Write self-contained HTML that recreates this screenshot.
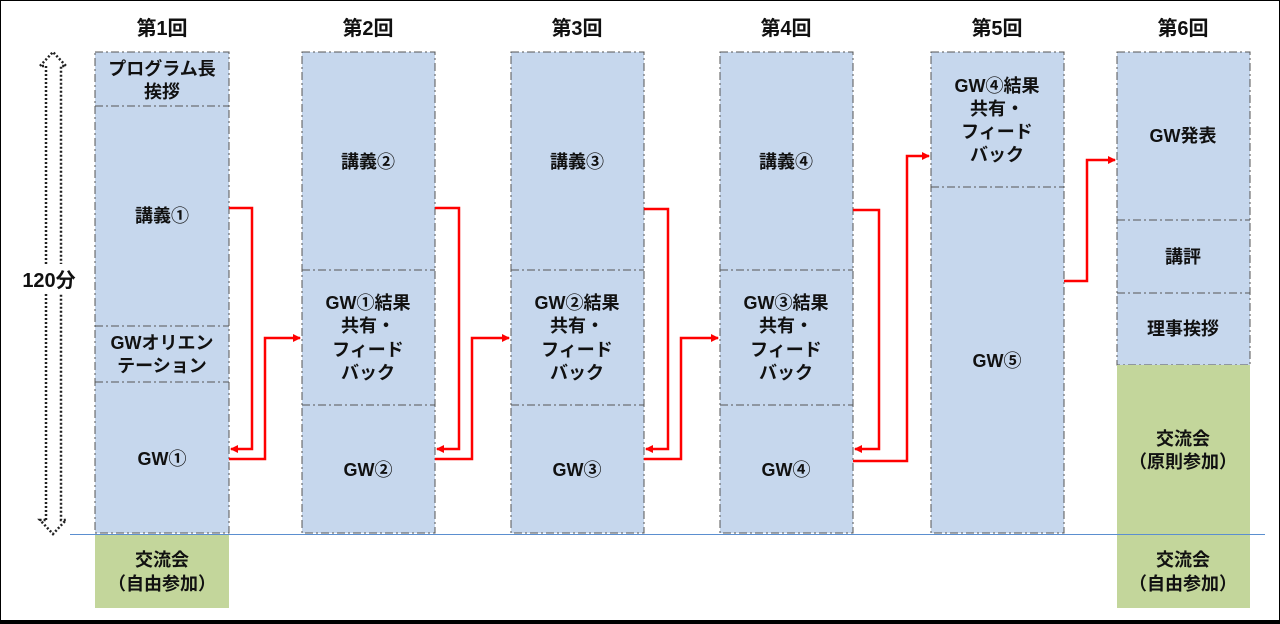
<!DOCTYPE html>
<html><head><meta charset="utf-8"><style>
body{margin:0;background:#fff}
svg{display:block}
text{font-family:"Liberation Sans","Noto Sans CJK JP",sans-serif;font-weight:bold;fill:#111;text-anchor:middle}
.t{font-size:20px}
.l{font-size:18px}
</style></head><body>
<svg width="1280" height="624" viewBox="0 0 1280 624">
<rect x="0.5" y="0.5" width="1279" height="622" fill="#fff" stroke="#000" stroke-width="1"/>
<rect x="0" y="620" width="1280" height="4" fill="#000"/>
<g fill="#c6d7ed" stroke="#555" stroke-width="1" stroke-dasharray="8,3,2,3">
<rect x="95" y="52" width="134" height="481"/>
<rect x="302" y="52" width="133" height="481"/>
<rect x="511" y="52" width="133" height="481"/>
<rect x="720" y="52" width="133" height="481"/>
<rect x="931" y="52" width="133" height="481"/>
<rect x="1117" y="52" width="133" height="313"/>
</g>
<rect x="95" y="534" width="134" height="74" fill="#c3d69b"/>
<rect x="1117" y="365" width="133" height="243" fill="#c3d69b"/>
<g stroke="#555" stroke-width="1" stroke-dasharray="8,3,2,3">
<line x1="95" y1="106" x2="229" y2="106"/><line x1="95" y1="326" x2="229" y2="326"/><line x1="95" y1="382" x2="229" y2="382"/>
<line x1="302" y1="270" x2="435" y2="270"/><line x1="302" y1="405" x2="435" y2="405"/>
<line x1="511" y1="270" x2="644" y2="270"/><line x1="511" y1="405" x2="644" y2="405"/>
<line x1="720" y1="270" x2="853" y2="270"/><line x1="720" y1="405" x2="853" y2="405"/>
<line x1="931" y1="187" x2="1064" y2="187"/>
<line x1="1117" y1="220" x2="1250" y2="220"/><line x1="1117" y1="293" x2="1250" y2="293"/>
</g>
<line x1="70" y1="534.5" x2="1265" y2="534.5" stroke="#5b8fd0" stroke-width="1"/>
<g fill="none" stroke="#222" stroke-width="2.5" stroke-dasharray="2,2">
<path d="M46 520 V66 L40 66 L53 52 L66 66 L61 66 V520 L66 520 L53 534 L40 520 L46 520"/>
</g>
<rect x="14" y="264" width="70" height="30" fill="#fff"/>
<text class="t" x="49" y="287">120分</text>
<text class="t" x="162" y="35">第1回</text>
<text class="t" x="368" y="35">第2回</text>
<text class="t" x="577" y="35">第3回</text>
<text class="t" x="786" y="35">第4回</text>
<text class="t" x="997" y="35">第5回</text>
<text class="t" x="1183" y="35">第6回</text>
<text class="l" x="162" y="75">プログラム長</text><text class="l" x="162" y="98">挨拶</text>
<text class="l" x="162" y="222">講義①</text>
<text class="l" x="162" y="349">GWオリエン</text><text class="l" x="162" y="372">テーション</text>
<text class="l" x="162" y="465">GW①</text>
<text class="l" x="162" y="566">交流会</text><text class="l" x="162" y="590">（自由参加）</text>
<text class="l" x="368" y="168">講義②</text>
<text class="l" x="368" y="309">GW①結果</text><text class="l" x="368" y="332">共有・</text><text class="l" x="368" y="356">フィード</text><text class="l" x="368" y="379">バック</text>
<text class="l" x="368" y="476">GW②</text>
<text class="l" x="577" y="168">講義③</text>
<text class="l" x="577" y="309">GW②結果</text><text class="l" x="577" y="332">共有・</text><text class="l" x="577" y="356">フィード</text><text class="l" x="577" y="379">バック</text>
<text class="l" x="577" y="476">GW③</text>
<text class="l" x="786" y="168">講義④</text>
<text class="l" x="786" y="309">GW③結果</text><text class="l" x="786" y="332">共有・</text><text class="l" x="786" y="356">フィード</text><text class="l" x="786" y="379">バック</text>
<text class="l" x="786" y="476">GW④</text>
<text class="l" x="997" y="92">GW④結果</text><text class="l" x="997" y="115">共有・</text><text class="l" x="997" y="138">フィード</text><text class="l" x="997" y="161">バック</text>
<text class="l" x="997" y="367">GW⑤</text>
<text class="l" x="1183" y="142">GW発表</text>
<text class="l" x="1183" y="263">講評</text>
<text class="l" x="1183" y="335">理事挨拶</text>
<text class="l" x="1183" y="445">交流会</text><text class="l" x="1183" y="468">（原則参加）</text>
<text class="l" x="1183" y="566">交流会</text><text class="l" x="1183" y="590">（自由参加）</text>
<defs><marker id="a" markerWidth="8" markerHeight="8" refX="7" refY="4" orient="auto" markerUnits="userSpaceOnUse"><path d="M0,0 L8,4 L0,8 z" fill="#f00"/></marker></defs>
<g fill="none" stroke="#f00" stroke-width="2.5" marker-end="url(#a)">
<path d="M229 208 H252 V449 H231"/>
<path d="M229 459 H265 V338 H300"/>
<path d="M435 208 H459 V449 H437"/>
<path d="M435 459 H472 V338 H509"/>
<path d="M644 209 H668 V449 H646"/>
<path d="M644 459 H681 V338 H718"/>
<path d="M853 210 H879 V449 H855"/>
<path d="M853 461 H907 V156 H929"/>
<path d="M1064 281 H1087 V160 H1115"/>
</g>
</svg>
</body></html>
